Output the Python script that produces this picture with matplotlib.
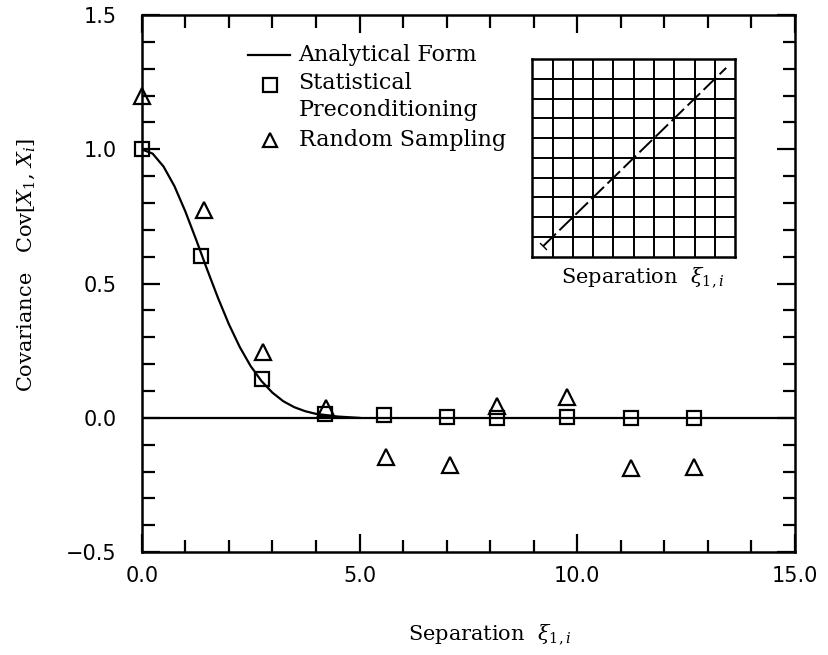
import numpy as np
import matplotlib.pyplot as plt

plt.rcParams['mathtext.fontset'] = 'dejavuserif'

# analytical form
curve_x = [0.0, 0.25, 0.5, 0.75, 1.0, 1.25, 1.5, 1.75, 2.0, 2.25, 2.5, 2.75,
           3.0, 3.25, 3.5, 3.75, 4.0, 4.5, 5.0]
curve_y = [1.0, 0.984, 0.936, 0.863, 0.769, 0.663, 0.553, 0.447, 0.349, 0.264,
           0.193, 0.137, 0.094, 0.062, 0.040, 0.025, 0.015, 0.005, 0.0]

# statistical preconditioning (squares)
sp_x = [0.0, 1.37, 2.77, 4.2, 5.57, 7.02, 8.15, 9.77, 11.23, 12.67]
sp_y = [1.0, 0.603, 0.144, 0.015, 0.01, 0.005, 0.0, 0.005, 0.0, 0.0]

# random sampling (triangles)
rs_x = [0.0, 1.43, 2.79, 4.22, 5.6, 7.07, 8.16, 9.76, 11.23, 12.68]
rs_y = [1.2, 0.775, 0.244, 0.035, -0.147, -0.174, 0.044, 0.077, -0.188, -0.183]

serif = 'DejaVu Serif'

fig = plt.figure(figsize=(8.29, 6.55), dpi=100)
ax = fig.add_axes([0.171, 0.157, 0.788, 0.820])

ax.plot(curve_x, curve_y, color='black', lw=1.6)
ax.axhline(0.0, color='black', lw=1.6)
ax.plot(sp_x, sp_y, 's', ms=10, mfc='none', mec='black', mew=1.6, clip_on=False)
ax.plot(rs_x, rs_y, '^', ms=12, mfc='none', mec='black', mew=1.6, clip_on=False)

ax.set_xlim(0, 15)
ax.set_ylim(-0.5, 1.5)
ax.set_xticks([0, 5, 10, 15])
ax.set_xticklabels(['0.0', '5.0', '10.0', '15.0'])
ax.set_xticks(np.arange(0, 16, 1), minor=True)
ax.set_yticks([-0.5, 0.0, 0.5, 1.0, 1.5])
ax.set_yticklabels(['\u22120.5', '0.0', '0.5', '1.0', '1.5'])
ax.set_yticks(np.arange(-0.5, 1.51, 0.1), minor=True)
ax.tick_params(which='both', direction='in', top=True, right=True, width=1.6)
ax.tick_params(which='major', length=13, labelsize=15)
ax.tick_params(which='minor', length=9)
ax.tick_params(axis='y', which='major', pad=18)
ax.tick_params(axis='x', which='major', pad=10)
for s in ax.spines.values():
    s.set_linewidth(1.8)

ax.set_xlabel('Separation  $\\xi_{1,i}$', fontsize=15, family=serif)
ax.xaxis.label.set_verticalalignment('center')
ax.xaxis.set_label_coords(0.533, -0.152)
ax.set_ylabel('Covariance   Cov[$X_1$, $X_i$]', fontsize=15, family=serif)
ax.yaxis.set_label_coords(-0.161, 0.534)

# legend drawn by hand
ax.plot([0.162, 0.227], [0.926, 0.926], color='black', lw=1.6, transform=ax.transAxes)
ax.plot([0.196], [0.870], 's', ms=10, mfc='none', mec='black', mew=1.6, transform=ax.transAxes)
ax.plot([0.196], [0.767], '^', ms=10, mfc='none', mec='black', mew=1.6, transform=ax.transAxes)
ax.text(0.240, 0.926, 'Analytical Form', transform=ax.transAxes, fontsize=16,
        family=serif, va='center')
ax.text(0.240, 0.873, 'Statistical', transform=ax.transAxes, fontsize=16,
        family=serif, va='center')
ax.text(0.240, 0.823, 'Preconditioning', transform=ax.transAxes, fontsize=16,
        family=serif, va='center')
ax.text(0.240, 0.767, 'Random Sampling', transform=ax.transAxes, fontsize=16,
        family=serif, va='center')

# inset grid
ins = fig.add_axes([0.642, 0.608, 0.245, 0.302])
ins.set_xlim(0, 10)
ins.set_ylim(0, 10)
ins.set_xticks([])
ins.set_yticks([])
for s in ins.spines.values():
    s.set_linewidth(1.8)
for k in range(1, 10):
    ins.axvline(k, color='black', lw=1.4)
    ins.axhline(k, color='black', lw=1.4)
ins.plot([0.55, 9.55], [0.55, 9.55], color='black', lw=1.4, dashes=(9, 2.5),
         marker=(2, 0, 45), ms=7, markevery=[0])
fig.text(643 / 829, 1 - 277 / 655, 'Separation  $\\xi_{1,i}$', fontsize=15,
         family=serif, ha='center', va='center')

fig.savefig('out.png', dpi=100)
